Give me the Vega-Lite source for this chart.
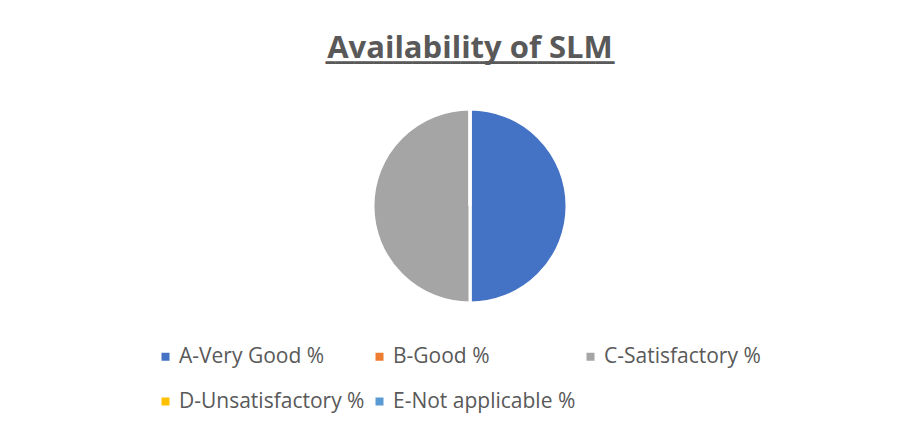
{
  "$schema": "https://vega.github.io/schema/vega-lite/v6.json",
  "autosize": "none",
  "width": 906,
  "height": 292,
  "padding": {"left": 17, "top": 60, "right": 0, "bottom": 76},
  "background": "white",
  "config": {"view": {"stroke": null}},
  "title": {
    "text": "Availability of SLM",
    "subtitle": "━━━━━━━━━━━━━━━━━━━━━━━━━━━━━━",
    "anchor": "middle",
    "font": "Open Sans",
    "fontSize": 31,
    "fontWeight": "bold",
    "color": "#595959",
    "subtitleFont": "DejaVu Sans Mono",
    "subtitleFontSize": 16,
    "subtitleColor": "#595959",
    "subtitlePadding": -10,
    "offset": -12
  },
  "data": {
    "values": [
      {"category": "A-Very Good %", "value": 50},
      {"category": "B-Good %", "value": 0},
      {"category": "C-Satisfactory %", "value": 50},
      {"category": "D-Unsatisfactory %", "value": 0},
      {"category": "E-Not applicable %", "value": 0}
    ]
  },
  "mark": {"type": "arc", "outerRadius": 97, "stroke": "white", "strokeWidth": 3},
  "encoding": {
    "theta": {"field": "value", "type": "quantitative", "stack": true},
    "color": {
      "field": "category",
      "type": "nominal",
      "scale": {
        "domain": ["A-Very Good %", "B-Good %", "C-Satisfactory %", "D-Unsatisfactory %", "E-Not applicable %"],
        "range": ["#4472C4", "#ED7D31", "#A5A5A5", "#FFC000", "#5B9BD5"]
      },
      "legend": {
        "title": null,
        "orient": "none",
        "legendX": 138,
        "legendY": 286,
        "direction": "horizontal",
        "columns": 3,
        "symbolType": "square",
        "symbolSize": 64,
        "symbolStrokeWidth": 0,
        "labelFont": "Open Sans",
        "labelFontSize": 21,
        "labelColor": "#595959",
        "labelLimit": 400,
        "labelOffset": 3,
        "columnPadding": 4,
        "rowPadding": 23
      }
    },
    "order": {"field": "category", "type": "nominal"}
  }
}
